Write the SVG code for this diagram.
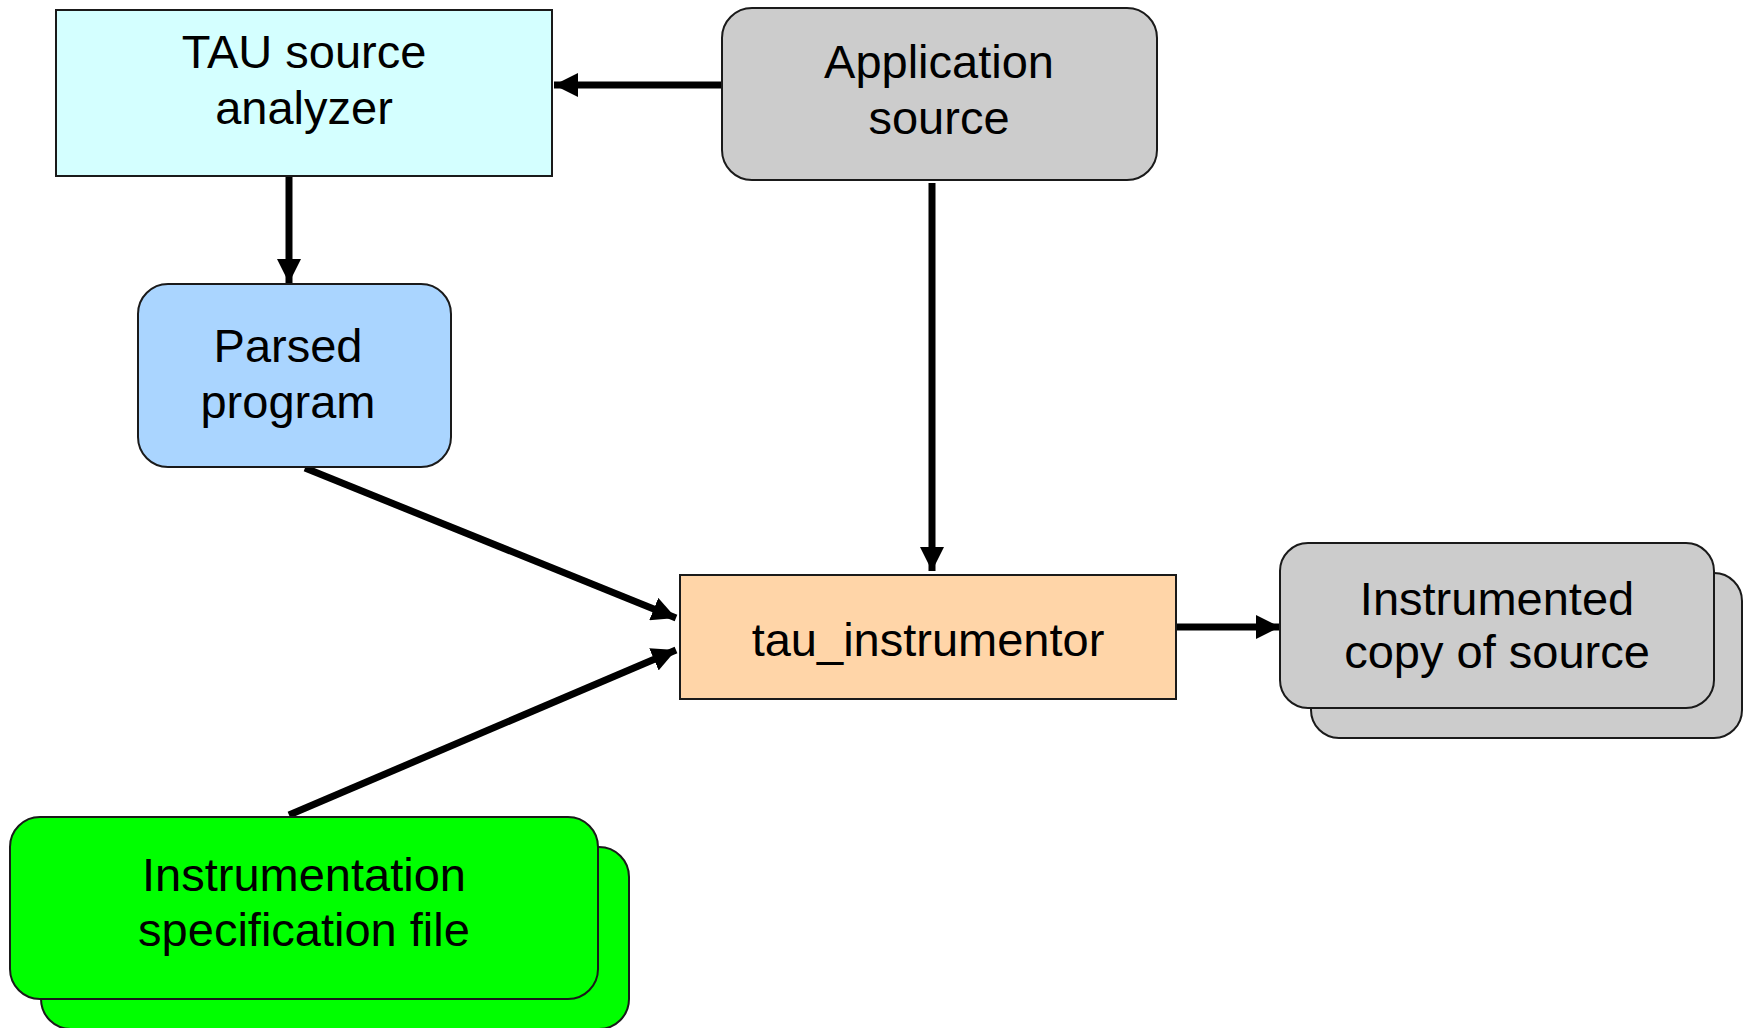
<svg xmlns="http://www.w3.org/2000/svg" width="1744" height="1028" viewBox="0 0 1744 1028">
<style>
.box{stroke:#1a1a1a;stroke-width:2}
.t{font-family:"Liberation Sans",Arial,sans-serif;font-size:47px;fill:#000;text-anchor:middle}
.c{stroke:#000;stroke-width:7;fill:none}
</style>
<defs>
<marker id="ah" viewBox="0 0 24 24" markerUnits="userSpaceOnUse" markerWidth="24" markerHeight="24" refX="24" refY="12" orient="auto">
<path d="M0,0 L24,12 L0,24 Z" fill="#000"/>
</marker>
</defs>
<rect width="1744" height="1028" fill="#fff"/>
<g id="connectors">
<line class="c" x1="722" y1="85" x2="554" y2="85" marker-end="url(#ah)"/>
<line class="c" x1="289" y1="177" x2="289" y2="283" marker-end="url(#ah)"/>
<line class="c" x1="932" y1="183" x2="932" y2="571" marker-end="url(#ah)"/>
<line class="c" x1="305" y1="468" x2="676" y2="618" marker-end="url(#ah)"/>
<line class="c" x1="289" y1="815" x2="676" y2="650" marker-end="url(#ah)"/>
<line class="c" x1="1177" y1="627" x2="1280" y2="627" marker-end="url(#ah)"/>
</g>
<g id="tau-source-analyzer">
<rect class="box" x="56" y="10" width="496" height="166" fill="#D4FFFF"/>
<text class="t" x="304" y="68">TAU source</text>
<text class="t" x="304" y="124">analyzer</text>
</g>
<g id="application-source">
<rect class="box" x="722" y="8" width="435" height="172" rx="30" fill="#CCCCCC"/>
<text class="t" x="939" y="78">Application</text>
<text class="t" x="939" y="134">source</text>
</g>
<g id="parsed-program">
<rect class="box" x="138" y="284" width="313" height="183" rx="30" fill="#AAD5FF"/>
<text class="t" x="288" y="362">Parsed</text>
<text class="t" x="288" y="418">program</text>
</g>
<g id="tau-instrumentor">
<rect class="box" x="680" y="575" width="496" height="124" fill="#FFD5A8"/>
<text class="t" x="928" y="656">tau_instrumentor</text>
</g>
<g id="instrumented-copy">
<rect class="box" x="1311" y="573" width="431" height="165" rx="28" fill="#CCCCCC"/>
<rect class="box" x="1280" y="543" width="434" height="165" rx="28" fill="#CCCCCC"/>
<text class="t" x="1497" y="615">Instrumented</text>
<text class="t" x="1497" y="668">copy of source</text>
</g>
<g id="instrumentation-spec">
<rect class="box" x="41" y="847" width="588" height="182" rx="30" fill="#00FF00"/>
<rect class="box" x="10" y="817" width="588" height="182" rx="30" fill="#00FF00"/>
<text class="t" x="304" y="891">Instrumentation</text>
<text class="t" x="304" y="946">specification file</text>
</g>
</svg>
